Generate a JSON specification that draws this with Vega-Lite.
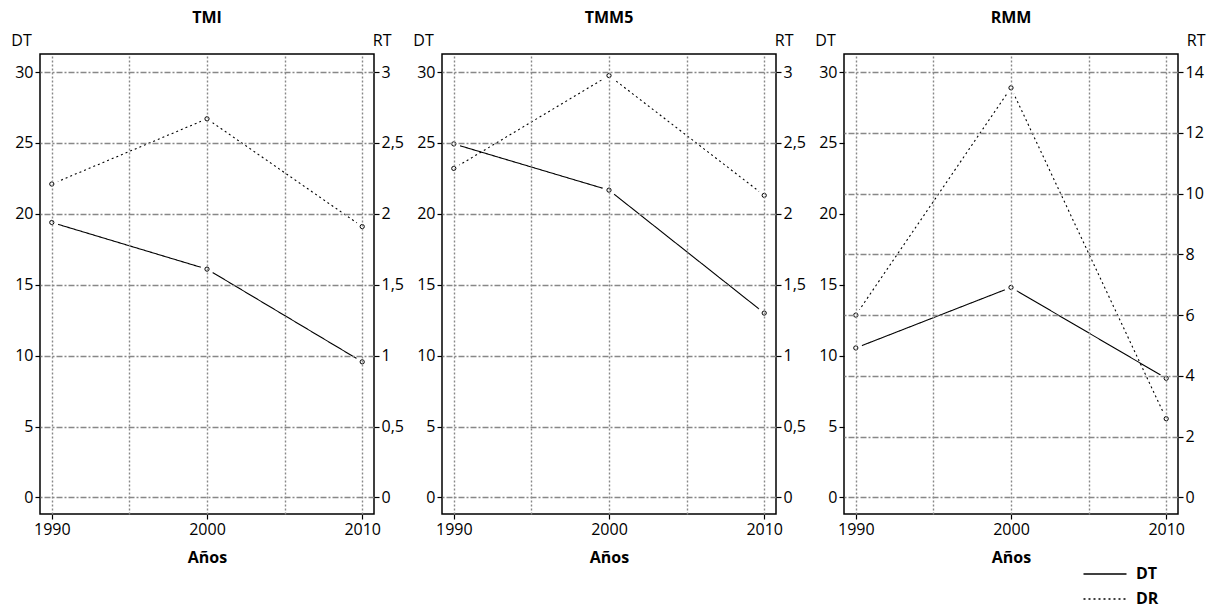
{
  "$schema": "https://vega.github.io/schema/vega-lite/v6.json",
  "background": "white",
  "padding": {"left": 10, "top": 9, "right": 5, "bottom": 0},
  "data": {"values": [
    {"p": "TMI", "year": 1990, "s": "DT", "v": 19.39},
    {"p": "TMI", "year": 2000, "s": "DT", "v": 16.1},
    {"p": "TMI", "year": 2010, "s": "DT", "v": 9.56},
    {"p": "TMI", "year": 1990, "s": "DR", "v": 2.21},
    {"p": "TMI", "year": 2000, "s": "DR", "v": 2.67},
    {"p": "TMI", "year": 2010, "s": "DR", "v": 1.91},
    {"p": "TMM5", "year": 1990, "s": "DT", "v": 24.93},
    {"p": "TMM5", "year": 2000, "s": "DT", "v": 21.67},
    {"p": "TMM5", "year": 2010, "s": "DT", "v": 13.0},
    {"p": "TMM5", "year": 1990, "s": "DR", "v": 2.32},
    {"p": "TMM5", "year": 2000, "s": "DR", "v": 2.975},
    {"p": "TMM5", "year": 2010, "s": "DR", "v": 2.13},
    {"p": "RMM", "year": 1990, "s": "DT", "v": 10.54},
    {"p": "RMM", "year": 2000, "s": "DT", "v": 14.81},
    {"p": "RMM", "year": 2010, "s": "DT", "v": 8.4},
    {"p": "RMM", "year": 1990, "s": "DR", "v": 6.0},
    {"p": "RMM", "year": 2000, "s": "DR", "v": 13.48},
    {"p": "RMM", "year": 2010, "s": "DR", "v": 2.59}
  ]},
  "spacing": 68,
  "bounds": "flush",
  "hconcat": [
    {
      "width": 334, "height": 460,
      "title": {"text": "TMI"},
      "transform": [{"filter": "datum.p === 'TMI'"}],
      "layer": [
        {
          "transform": [{"filter": "datum.s === 'DT'"}],
          "encoding": {
            "x": {"field": "year", "type": "quantitative", "scale": {"domain": [1989.24, 2010.76], "nice": false, "zero": false},
                  "axis": {"orient": "bottom", "values": [1990, 2000, 2010], "format": "d", "title": "Años", "grid": false}},
            "y": {"field": "v", "type": "quantitative", "scale": {"domain": [-1.17, 31.27], "nice": false, "zero": false},
                  "axis": {"orient": "left", "values": [0, 5, 10, 15, 20, 25, 30], "title": "DT", "grid": false, "titleAngle": 0, "titleX": -19, "titleY": -14, "titleAlign": "center", "titleBaseline": "middle", "titleFontWeight": "normal", "minExtent": 0, "maxExtent": 30}}
          },
          "layer": [
            {"mark": {"type": "line", "color": "black", "strokeWidth": 1.1},
             "encoding": {"strokeDash": {"field": "s", "type": "nominal", "scale": {"domain": ["DT", "DR"], "range": [[1, 0], [2, 3]]}}}},
            {"mark": {"type": "point", "shape": "circle", "filled": true, "fill": "white", "stroke": null, "size": 180, "opacity": 1, "fillOpacity": 1}},
            {"mark": {"type": "point", "shape": "circle", "filled": false, "stroke": "black", "fill": "white", "size": 18, "strokeWidth": 1, "opacity": 1}}
          ]
        },
        {
          "transform": [{"filter": "datum.s === 'DR'"}],
          "encoding": {
            "x": {"field": "year", "type": "quantitative", "scale": {"domain": [1989.24, 2010.76], "nice": false, "zero": false},
                  "axis": {"orient": "top", "values": [1990, 1995, 2000, 2005, 2010], "labels": false, "ticks": false, "domain": false, "title": null, "grid": true, "gridDash": [2, 2], "zindex": 1, "minExtent": 0, "maxExtent": 0}},
            "y": {"field": "v", "type": "quantitative", "scale": {"domain": [-0.117, 3.127], "nice": false, "zero": false},
                  "axis": {"orient": "right", "values": [0, 0.5, 1, 1.5, 2, 2.5, 3], "title": "RT", "grid": true, "gridDash": [6, 2, 2, 2], "zindex": 1, "titleAngle": 0, "titleX": 17, "titleY": -14, "titleAlign": "right", "titleBaseline": "middle", "titleFontWeight": "normal", "minExtent": 0, "maxExtent": 30}}
          },
          "layer": [
            {"mark": {"type": "line", "color": "black", "strokeWidth": 1.1},
             "encoding": {"strokeDash": {"field": "s", "type": "nominal", "scale": {"domain": ["DT", "DR"], "range": [[1, 0], [2, 3]]}}}},
            {"mark": {"type": "point", "shape": "circle", "filled": true, "fill": "white", "stroke": null, "size": 180, "opacity": 1, "fillOpacity": 1}},
            {"mark": {"type": "point", "shape": "circle", "filled": false, "stroke": "black", "fill": "white", "size": 18, "strokeWidth": 1, "opacity": 1}}
          ]
        }
      ],
      "resolve": {"scale": {"y": "independent"}, "axis": {"x": "independent", "y": "independent"}}
    },
    {
      "width": 334, "height": 460,
      "title": {"text": "TMM5"},
      "transform": [{"filter": "datum.p === 'TMM5'"}],
      "layer": [
        {
          "transform": [{"filter": "datum.s === 'DT'"}],
          "encoding": {
            "x": {"field": "year", "type": "quantitative", "scale": {"domain": [1989.24, 2010.76], "nice": false, "zero": false},
                  "axis": {"orient": "bottom", "values": [1990, 2000, 2010], "format": "d", "title": "Años", "grid": false}},
            "y": {"field": "v", "type": "quantitative", "scale": {"domain": [-1.17, 31.27], "nice": false, "zero": false},
                  "axis": {"orient": "left", "values": [0, 5, 10, 15, 20, 25, 30], "title": "DT", "grid": false, "titleAngle": 0, "titleX": -19, "titleY": -14, "titleAlign": "center", "titleBaseline": "middle", "titleFontWeight": "normal", "minExtent": 0, "maxExtent": 30}}
          },
          "layer": [
            {"mark": {"type": "line", "color": "black", "strokeWidth": 1.1},
             "encoding": {"strokeDash": {"field": "s", "type": "nominal", "scale": {"domain": ["DT", "DR"], "range": [[1, 0], [2, 3]]}}}},
            {"mark": {"type": "point", "shape": "circle", "filled": true, "fill": "white", "stroke": null, "size": 180, "opacity": 1, "fillOpacity": 1}},
            {"mark": {"type": "point", "shape": "circle", "filled": false, "stroke": "black", "fill": "white", "size": 18, "strokeWidth": 1, "opacity": 1}}
          ]
        },
        {
          "transform": [{"filter": "datum.s === 'DR'"}],
          "encoding": {
            "x": {"field": "year", "type": "quantitative", "scale": {"domain": [1989.24, 2010.76], "nice": false, "zero": false},
                  "axis": {"orient": "top", "values": [1990, 1995, 2000, 2005, 2010], "labels": false, "ticks": false, "domain": false, "title": null, "grid": true, "gridDash": [2, 2], "zindex": 1, "minExtent": 0, "maxExtent": 0}},
            "y": {"field": "v", "type": "quantitative", "scale": {"domain": [-0.117, 3.127], "nice": false, "zero": false},
                  "axis": {"orient": "right", "values": [0, 0.5, 1, 1.5, 2, 2.5, 3], "title": "RT", "grid": true, "gridDash": [6, 2, 2, 2], "zindex": 1, "titleAngle": 0, "titleX": 17, "titleY": -14, "titleAlign": "right", "titleBaseline": "middle", "titleFontWeight": "normal", "minExtent": 0, "maxExtent": 30}}
          },
          "layer": [
            {"mark": {"type": "line", "color": "black", "strokeWidth": 1.1},
             "encoding": {"strokeDash": {"field": "s", "type": "nominal", "scale": {"domain": ["DT", "DR"], "range": [[1, 0], [2, 3]]}}}},
            {"mark": {"type": "point", "shape": "circle", "filled": true, "fill": "white", "stroke": null, "size": 180, "opacity": 1, "fillOpacity": 1}},
            {"mark": {"type": "point", "shape": "circle", "filled": false, "stroke": "black", "fill": "white", "size": 18, "strokeWidth": 1, "opacity": 1}}
          ]
        }
      ],
      "resolve": {"scale": {"y": "independent"}, "axis": {"x": "independent", "y": "independent"}}
    },
    {
      "width": 334, "height": 460,
      "title": {"text": "RMM"},
      "transform": [{"filter": "datum.p === 'RMM'"}],
      "layer": [
        {
          "transform": [{"filter": "datum.s === 'DT'"}],
          "encoding": {
            "x": {"field": "year", "type": "quantitative", "scale": {"domain": [1989.24, 2010.76], "nice": false, "zero": false},
                  "axis": {"orient": "bottom", "values": [1990, 2000, 2010], "format": "d", "title": "Años", "grid": false}},
            "y": {"field": "v", "type": "quantitative", "scale": {"domain": [-1.17, 31.27], "nice": false, "zero": false},
                  "axis": {"orient": "left", "values": [0, 5, 10, 15, 20, 25, 30], "title": "DT", "grid": false, "titleAngle": 0, "titleX": -19, "titleY": -14, "titleAlign": "center", "titleBaseline": "middle", "titleFontWeight": "normal", "minExtent": 0, "maxExtent": 30}}
          },
          "layer": [
            {"mark": {"type": "line", "color": "black", "strokeWidth": 1.1},
             "encoding": {"strokeDash": {"field": "s", "type": "nominal", "scale": {"domain": ["DT", "DR"], "range": [[1, 0], [2, 3]]}}}},
            {"mark": {"type": "point", "shape": "circle", "filled": true, "fill": "white", "stroke": null, "size": 180, "opacity": 1, "fillOpacity": 1}},
            {"mark": {"type": "point", "shape": "circle", "filled": false, "stroke": "black", "fill": "white", "size": 18, "strokeWidth": 1, "opacity": 1}}
          ]
        },
        {
          "transform": [{"filter": "datum.s === 'DR'"}],
          "encoding": {
            "x": {"field": "year", "type": "quantitative", "scale": {"domain": [1989.24, 2010.76], "nice": false, "zero": false},
                  "axis": {"orient": "top", "values": [1990, 1995, 2000, 2005, 2010], "labels": false, "ticks": false, "domain": false, "title": null, "grid": true, "gridDash": [2, 2], "zindex": 1, "minExtent": 0, "maxExtent": 0}},
            "y": {"field": "v", "type": "quantitative", "scale": {"domain": [-0.546, 14.593], "nice": false, "zero": false},
                  "axis": {"orient": "right", "values": [0, 2, 4, 6, 8, 10, 12, 14], "title": "RT", "grid": true, "gridDash": [6, 2, 2, 2], "zindex": 1, "titleAngle": 0, "titleX": 27, "titleY": -14, "titleAlign": "right", "titleBaseline": "middle", "titleFontWeight": "normal", "minExtent": 0, "maxExtent": 30}}
          },
          "layer": [
            {"mark": {"type": "line", "color": "black", "strokeWidth": 1.1},
             "encoding": {"strokeDash": {"field": "s", "type": "nominal", "scale": {"domain": ["DT", "DR"], "range": [[1, 0], [2, 3]]}}}},
            {"mark": {"type": "point", "shape": "circle", "filled": true, "fill": "white", "stroke": null, "size": 180, "opacity": 1, "fillOpacity": 1}},
            {"mark": {"type": "point", "shape": "circle", "filled": false, "stroke": "black", "fill": "white", "size": 18, "strokeWidth": 1, "opacity": 1}}
          ]
        }
      ],
      "resolve": {"scale": {"y": "independent"}, "axis": {"x": "independent", "y": "independent"}}
    }
  ],
  "config": {
    "font": "Open Sans",
    "view": {"stroke": "black", "strokeWidth": 1.5},
    "title": {"font": "Open Sans", "fontSize": 16, "fontWeight": "bold", "color": "black", "anchor": "middle", "frame": "group", "offset": 6},
    "axis": {
      "labelFont": "Open Sans", "labelFontSize": 16, "labelColor": "black",
      "tickColor": "black", "tickSize": 5, "tickWidth": 1.2, "labelPadding": 2,
      "domain": false,
      "format": "~g",
      "labelExpr": "replace(datum.label, '.', ',')",
      "gridColor": "#888888", "gridWidth": 1.4, "gridOpacity": 1,
      "titleFont": "Open Sans", "titleFontSize": 16, "titleColor": "black", "titleFontWeight": "bold", "titlePadding": 12
    },
    "legend": {
      "orient": "none", "legendX": 1057, "legendY": 512,
      "title": null, "symbolType": "M-5,0H5", "symbolSize": 74, "symbolStrokeWidth": 1.6, "symbolStrokeColor": "black", "symbolFillColor": "transparent",
      "labelFont": "Open Sans", "labelFontSize": 16, "labelFontWeight": "bold", "labelColor": "black", "labelOffset": 23, "rowPadding": 9
    }
  }
}
